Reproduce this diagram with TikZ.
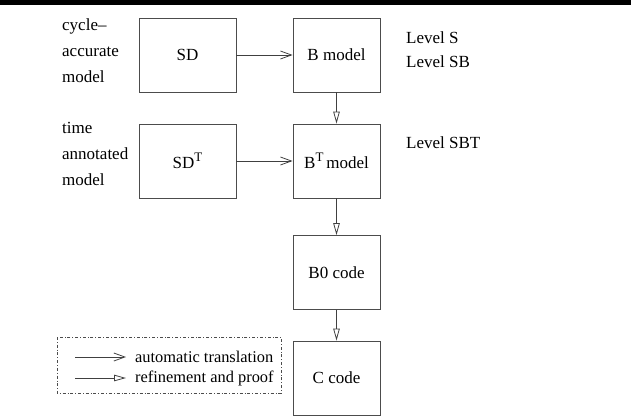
\documentclass[tikz,border=0pt]{standalone}
\usepackage{fontspec}
\setmainfont{Liberation Serif}
\usetikzlibrary{arrows.meta}
\newcommand{\supT}{\raisebox{0.42em}{\fontsize{13}{13}\selectfont T}}
\begin{document}
\begin{tikzpicture}[x=1pt,y=-1pt,
    font=\fontsize{17}{24}\selectfont,
    blk/.style={draw=black!70, line width=0.8pt, inner sep=0pt,
      minimum width=#1, minimum height=74pt},
    blk/.default=87pt,
    trans/.style={draw=black!75, line width=0.8pt,
      -{Straight Barb[length=11pt,width=8pt]}},
    refine/.style={draw=black!75, line width=0.8pt,
      -{Triangle[open,length=12pt,width=6.5pt]}},
    side/.style={align=left, anchor=west, inner sep=0pt}]
  \useasboundingbox (0,0) rectangle (631,416);
  \fill (0,0) rectangle (631,4.5);
  % boxes
  \node[blk=97pt] (sd) at (187.5,55) {SD};
  \node[blk] (bm) at (336.5,55) {B model};
  \node[blk=97pt] (sdt) at (187.5,161) {SD\supT};
  \node[blk] (btm) at (336.5,161) {B\supT\,model};
  \node[blk] (bz) at (336.5,272.5) {B0 code};
  \node[blk] (cc) at (336.5,378) {C code};
  \draw[trans] (sd) -- (bm);
  \draw[trans] (sdt) -- (btm);
  \draw[refine] (bm) -- (btm);
  \draw[refine] (btm) -- (bz);
  \draw[refine] (bz) -- (cc);
  % side texts
  \node[side, font=\fontsize{17}{26}\selectfont] (cyc) at (62,51) {cycle–\\accurate\\model};
  \node[side, font=\fontsize{17}{26}\selectfont] (tim) at (62,154) {time\\annotated\\model};
  \node[side] (lvs) at (406,50) {Level S\\Level SB};
  \node[side] (lvt) at (406,143) {Level SBT};
  % legend
  \draw[black!70, line width=0.7pt, dash dot] (57,337) rectangle (281,393);
  \coordinate (ta) at (75,357);
  \coordinate (tb) at (126,357);
  \coordinate (ra) at (75,378);
  \coordinate (rb) at (126,378);
  \draw[trans] (ta) -- (tb);
  \draw[refine] (ra) -- (rb);
  \node[side, font=\fontsize{16.4}{20}\selectfont] (lta) at (135,357) {automatic translation};
  \node[side, font=\fontsize{16.4}{20}\selectfont] (ltb) at (135,378) {refinement and proof};
\end{tikzpicture}
\end{document}
